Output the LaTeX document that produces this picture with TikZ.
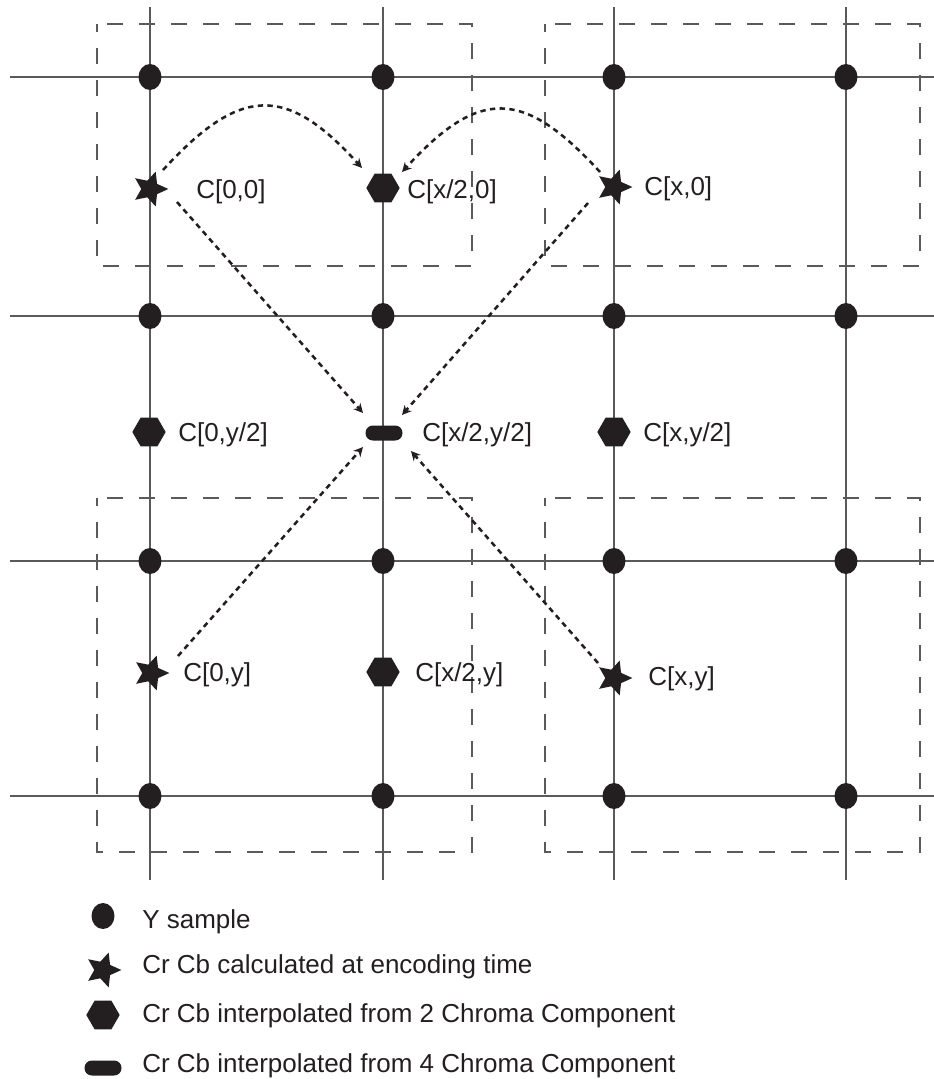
\documentclass[tikz,border=0pt]{standalone}
\usepackage{fontspec}
\setmainfont{Liberation Sans}
\usetikzlibrary{shapes.geometric,arrows.meta}
\definecolor{ink}{HTML}{231F20}
\definecolor{gridc}{HTML}{5A5A5A}
\begin{document}
\begin{tikzpicture}[x=0.75pt,y=-0.75pt,
  gridline/.style={draw=gridc,line width=1.1pt},
  dbox/.style={draw=gridc,line width=1.1pt,dash pattern=on 12pt off 12pt,dash phase=6pt},
  ysamp/.style={ellipse,fill=ink,inner sep=0pt,minimum width=17.25pt,minimum height=19.5pt},
  starmk/.style={star,star points=5,star point ratio=2.1,shape border rotate=-90,fill=ink,inner sep=0pt,minimum size=27.5pt},
  hexmk/.style={regular polygon,regular polygon sides=6,fill=ink,inner sep=0pt,minimum size=25pt},
  pillmk/.style={rectangle,rounded corners=5.5pt,fill=ink,inner sep=0pt,minimum width=27.75pt,minimum height=11.25pt},
  lbl/.style={anchor=base west,inner sep=0pt,text=ink,font=\fontsize{19.5}{23}\selectfont},
  arr/.style={draw=ink,line width=1.9pt,dash pattern=on 4pt off 3.3pt,-{Stealth[length=7pt,width=7pt,inset=2.2pt]}}]
\useasboundingbox (0,0) rectangle (934,1079);
% grid lines
\foreach \x in {150,383,614,846} \draw[gridline] (\x,7) -- (\x,880);
\foreach \y in {77,316,561,796} \draw[gridline] (10,\y) -- (934,\y);
% dashed boxes
\draw[dbox] (97,24) rectangle (472,266);
\draw[dbox] (545,24) rectangle (920,266);
\draw[dbox] (97,498) rectangle (472,852);
\draw[dbox] (545,498) rectangle (920,852);
% Y samples
\foreach \x in {150,383,614,846} \foreach \y in {77,316,561,796} \node[ysamp] (y-\x-\y) at (\x,\y) {};
% chroma marks
\node[starmk] (s00) at (150,189) {};
\node[hexmk]  (h0)  at (383,188) {};
\node[starmk] (sx0) at (614,187) {};
\node[hexmk]  (hy0) at (149,432) {};
\node[pillmk] (p)   at (384,433) {};
\node[hexmk]  (hxy2) at (614,432) {};
\node[starmk] (s0y) at (151,673) {};
\node[hexmk]  (hx2y) at (383,672) {};
\node[starmk] (sxy) at (614,678) {};
% labels
\node[lbl] (l00) at (196,198) {C[0,0]};
\node[lbl] (lx20) at (407,198) {C[x/2,0]};
\node[lbl] (lx0) at (644,195) {C[x,0]};
\node[lbl] (l0y2) at (178,441) {C[0,y/2]};
\node[lbl] (lx2y2) at (422,441) {C[x/2,y/2]};
\node[lbl] (lxy2) at (643,441) {C[x,y/2]};
\node[lbl] (l0y) at (183,681) {C[0,y]};
\node[lbl] (lx2y) at (415,681) {C[x/2,y]};
\node[lbl] (lxy) at (648,685) {C[x,y]};
% arrows
\draw[arr] ([shift={(13,-19)}]s00.center) .. controls (240,86) and (286,84) .. ([shift={(-21,-20)}]h0.center);
\draw[arr] ([shift={(-14,-15)}]sx0.center) .. controls (523,88) and (479,88) .. ([shift={(19,-16)}]h0.center);
\draw[arr] ([shift={(27,13)}]s00.center) -- ([shift={(-21,-20)}]p.center);
\draw[arr] ([shift={(-26,16)}]sx0.center) -- ([shift={(18,-18)}]p.center);
\draw[arr] ([shift={(27,-17)}]s0y.center) -- ([shift={(-21,14)}]p.center);
\draw[arr] ([shift={(-16,-15)}]sxy.center) -- ([shift={(27,18)}]p.center);
% legend
\node[ysamp]  (ly) at (103,916) {};
\node[starmk] (ls) at (103,970) {};
\node[hexmk]  (lh) at (103,1015) {};
\node[pillmk] (lp) at (103,1068) {};
\node[lbl] (ty) at (142,928) {Y sample};
\node[lbl] (ts) at (142,973) {Cr Cb calculated at encoding time};
\node[lbl] (th) at (142,1022) {Cr Cb interpolated from 2 Chroma Component};
\node[lbl] (tp) at (142,1072) {Cr Cb interpolated from 4 Chroma Component};
\end{tikzpicture}
\end{document}
